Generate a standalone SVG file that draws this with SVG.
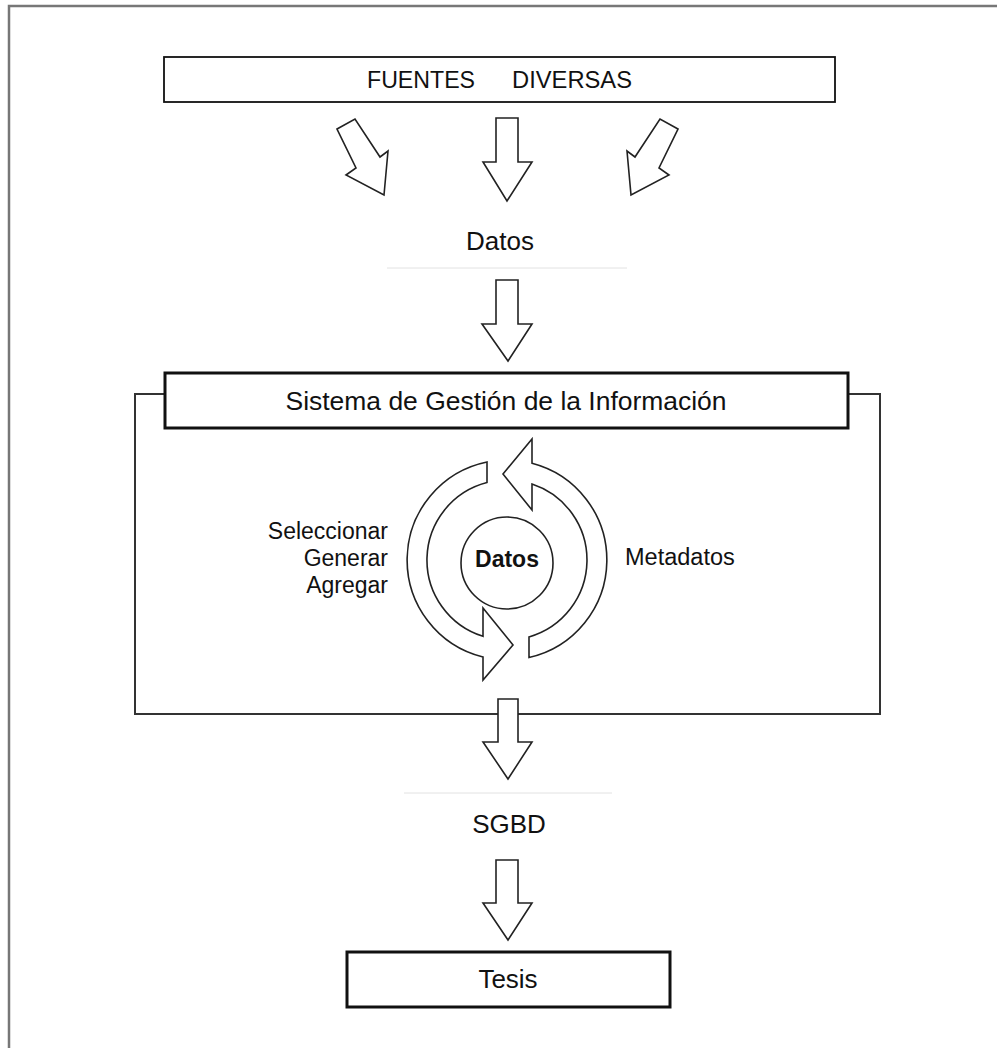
<svg xmlns="http://www.w3.org/2000/svg" width="997" height="1048" viewBox="0 0 997 1048">
<style>
.t{font-family:"Liberation Sans",Arial,sans-serif;fill:#111;}
.c{text-anchor:middle;}
.e{text-anchor:end;}
.arw{fill:#fff;stroke:#222;stroke-width:1.6;stroke-linejoin:miter;}
.box{fill:#fff;stroke:#111;}
.faint{stroke:#e2e2e2;stroke-width:1;}
</style>
<rect width="997" height="1048" fill="#fff"/>
<path id="frame" d="M9 1048 V6 H997" fill="none" stroke="#777" stroke-width="2.5"/>

<g id="fuentes">
<rect class="box" x="164" y="57" width="671" height="45" stroke-width="1.8"/>
<text class="t" x="367" y="88" font-size="23" textLength="108" lengthAdjust="spacingAndGlyphs">FUENTES</text>
<text class="t" x="512" y="88" font-size="23" textLength="120" lengthAdjust="spacingAndGlyphs">DIVERSAS</text>
</g>

<g id="connectors">
<polygon class="arw" points="337,129 355,119 380,157 388,151 384,195 346,175 356,168"/>
<polygon class="arw" points="496,118 518,118 518,162 532,162 507,201 483,162 496,162"/>
<polygon class="arw" points="678,129 660,119 635,157 627,151 631,195 669,175 659,168"/>
<polygon class="arw" points="496,280 518,280 518,324 532,324 508,361 482,324 496,324"/>
<polygon class="arw" points="496,860 518,860 518,903 532,903 508,940 483,903 496,903"/>
</g>

<g id="datos-top">
<text class="t c" x="500" y="250" font-size="26">Datos</text>
<line class="faint" x1="387" y1="268" x2="627" y2="268"/>
</g>

<g id="sistema-frame">
<rect x="135" y="394" width="745" height="320" fill="none" stroke="#333" stroke-width="2"/>
</g>

<g id="sistema">
<rect class="box" x="165" y="373" width="683" height="55" stroke-width="3"/>
<text class="t c" x="506" y="410" font-size="26" textLength="441" lengthAdjust="spacingAndGlyphs">Sistema de Gestión de la Información</text>
</g>

<g id="ciclo">
<path class="arw" d="M487 462 A100 100 0 0 0 483 657 L483 680 L513 645 L483 608 L483 636.3 A80 80 0 0 1 487 482.5 Z"/>
<path class="arw" d="M529 657.5 A100 100 0 0 0 532 463.2 L532 439 L503 474 L532 510 L532 484 A80 80 0 0 1 529 636.9 Z"/>
</g>

<g id="datos-centro">
<circle cx="507" cy="563" r="46" fill="#fff" stroke="#222" stroke-width="1.6"/>
<text class="t c" x="507" y="567" font-size="23" font-weight="bold">Datos</text>
</g>

<g id="acciones">
<text class="t e" x="388" y="539" font-size="23">Seleccionar</text>
<text class="t e" x="388" y="566" font-size="23">Generar</text>
<text class="t e" x="388" y="593" font-size="23">Agregar</text>
</g>

<g id="metadatos">
<text class="t" x="625" y="565" font-size="23.5">Metadatos</text>
</g>

<g id="salida">
<polygon class="arw" points="498,699 518,699 518,742 532,742 508,779 483,742 498,742"/>
</g>

<g id="sgbd">
<line class="faint" x1="404" y1="793" x2="612" y2="793"/>
<text class="t c" x="509" y="833" font-size="26">SGBD</text>
</g>

<g id="tesis">
<rect class="box" x="347" y="952" width="323" height="55" stroke-width="3"/>
<text class="t c" x="508" y="988" font-size="26">Tesis</text>
</g>
</svg>
